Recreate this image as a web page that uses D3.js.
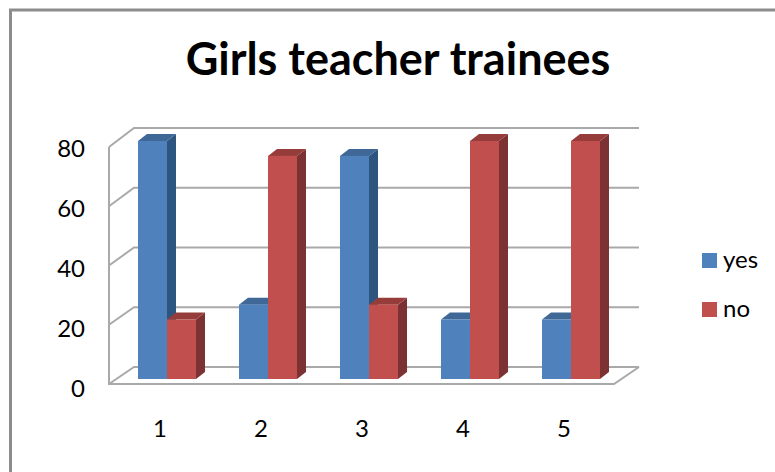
<!DOCTYPE html>
<html>
<head>
<meta charset="utf-8">
<script src="https://cdn.jsdelivr.net/npm/d3@7"></script>
<style>
  html, body { margin: 0; padding: 0; background: #fff; }
  svg { display: block; }
  text { font-family: Lato, "Open Sans", sans-serif; fill: #000; }
</style>
</head>
<body>
<svg id="chart" width="775" height="472"></svg>
<script>
const categories = ["1", "2", "3", "4", "5"]
const seriesNames = ["yes", "no"]
const yes = [80, 25, 75, 20, 20]
const no = [20, 75, 25, 80, 80]
const yTicks = [0, 20, 40, 60, 80]

const colors = {
  yes: { front: "#4f81bd", top: "#3f6797", side: "#2f5480" },
  no: { front: "#c0504d", top: "#963d3a", side: "#7c3230" }
}

const svg = d3.select("#chart")

// soft edge, the original is a scaled up screenshot
const blur = svg.append("defs").append("filter").attr("id", "soft")
  .attr("x", "-10%").attr("y", "-10%").attr("width", "120%").attr("height", "120%")
blur.append("feGaussianBlur").attr("stdDeviation", 0.6)

// outer frame, only top and left are in the picture
svg.append("path").attr("d", "M10.5,472V10H775")
  .attr("fill", "none").attr("stroke", "#8c8c8c").attr("stroke-width", 3)

svg.append("text").attr("x", 398).attr("y", 75).attr("text-anchor", "middle")
  .attr("font-size", 45).attr("font-weight", 700).text("Girls teacher trainees")

// 3d box: front edge and back wall have their own scales
const yFront = d3.scaleLinear().domain([0, 80]).range([384, 147])
const yBack = d3.scaleLinear().domain([0, 80]).range([367, 128])
const yBar = d3.scaleLinear().domain([0, 80]).range([379, 141])
const yLabel = d3.scaleLinear().domain([0, 80]).range([397, 157])
const boxX = [109, 614], wallDx = 25

const grid = svg.append("g").attr("filter", "url(#soft)")
  .attr("fill", "none").attr("stroke", "#a9a9a9").attr("stroke-width", 2)

grid.selectAll(".grid").data(yTicks).enter().append("path").attr("class", "grid")
  .attr("d", d => `M${boxX[0]},${yFront(d)}L${boxX[0] + wallDx},${yBack(d)}H${boxX[1] + wallDx}`)
grid.append("path").attr("d", `M${boxX[0]},${yFront(80)}V${yFront(0)}H${boxX[1]}L${boxX[1] + wallDx},${yBack(0)}`)

const barW = 29, depth = 9, rise = 7
const groupX = d3.scaleBand().domain(categories).range([138, 643])

function drawBar(g, x0, w, yTop, yBase, c) {
  g.append("path").attr("fill", c.side)
    .attr("d", `M${x0 + w},${yTop}l${depth},${-rise}V${yBase - rise}l${-depth},${rise}Z`)
  g.append("path").attr("fill", c.top)
    .attr("d", `M${x0},${yTop}l${depth},${-rise}h${w}l${-depth},${rise}Z`)
  g.append("rect").attr("x", x0).attr("y", yTop).attr("width", w).attr("height", yBase - yTop)
    .attr("fill", c.front)
}

// yes first, the red bar sits in front of the blue side face
const bars = svg.append("g").attr("filter", "url(#soft)")
categories.forEach((c, i) => {
  const x0 = groupX(c)
  drawBar(bars, x0, barW, yBar(yes[i]), yBar(0), colors.yes)
  drawBar(bars, x0 + barW, barW, yBar(no[i]), yBar(0), colors.no)
})

// y labels
svg.selectAll(".ylab").data(yTicks).enter().append("text").attr("class", "ylab")
  .attr("x", 85).attr("y", d => yLabel(d)).attr("text-anchor", "end")
  .attr("font-size", 24).text(d => d)

// x labels
svg.selectAll(".xlab").data(categories).enter().append("text").attr("class", "xlab")
  .attr("x", d => groupX(d) + 22).attr("y", 437).attr("text-anchor", "middle")
  .attr("font-size", 24).text(d => d)

// legend
const legendY = d3.scalePoint().domain(seriesNames).range([253, 302])
const legend = svg.selectAll(".legend").data(seriesNames).enter().append("g").attr("class", "legend")
legend.append("rect").attr("x", 702).attr("y", d => legendY(d)).attr("width", 15).attr("height", 15)
  .attr("fill", d => colors[d].front)
legend.append("text").attr("x", 723).attr("y", d => legendY(d) + 15).attr("font-size", 24).text(d => d)
</script>
</body>
</html>
